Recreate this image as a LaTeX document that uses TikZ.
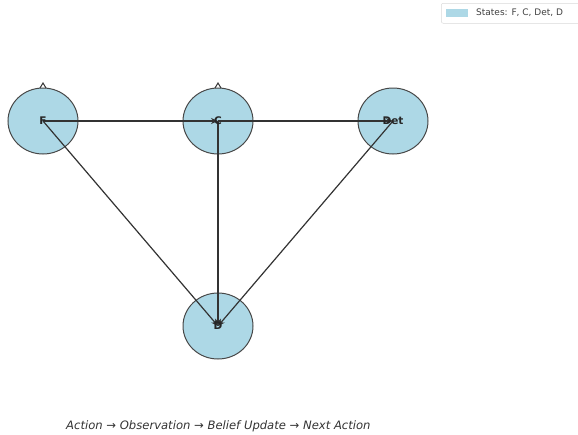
\documentclass[tikz,border=0pt]{standalone}
\usepackage{fontspec}
\setmainfont{DejaVu Sans}
\usetikzlibrary{arrows.meta,shapes.geometric}
\definecolor{lblue}{HTML}{ADD8E6}
\definecolor{edgec}{HTML}{333333}
\begin{document}
\begin{tikzpicture}[x=1pt,y=-1pt,
  state/.style={ellipse,draw=edgec!90,line width=1pt,fill=lblue,minimum width=70pt,minimum height=66pt,inner sep=0pt},
  lbl/.style={font=\bfseries\fontsize{10.5}{12}\selectfont,text=black!85},
  edge/.style={draw=edgec,line width=1.2pt,-{Stealth[length=7pt,width=6pt]}},
  loopmark/.style={draw=edgec,line width=1pt}]
\useasboundingbox (0,0) rectangle (578,434);
\node[state] (F) at (43,121) {};
\node[state] (C) at (218,121) {};
\node[state] (Det) at (393,121) {};
\node[state] (D) at (218,326) {};
\draw[edge] (F.center) -- (C.center);
\draw[edge] (C.center) -- (Det.center);
\draw[edge] (F.center) -- (D.center);
\draw[edge] (C.center) -- (D.center);
\draw[edge] (Det.center) -- (D.center);
\node[lbl] (Fl) at (43,121) {F};
\node[lbl] (Cl) at (218,121) {C};
\node[lbl] (Detl) at (393,121) {Det};
\node[lbl] (Dl) at (218,326) {D};
\coordinate (fl) at (43,86);
\coordinate (cl) at (218,86);
\draw[loopmark] ([xshift=-3pt,yshift=-2pt]fl) -- ([yshift=3pt]fl) -- ([xshift=3pt,yshift=-2pt]fl);
\draw[loopmark] ([xshift=-3pt,yshift=-2pt]cl) -- ([yshift=3pt]cl) -- ([xshift=3pt,yshift=-2pt]cl);
\node[draw=black!15,line width=0.5pt,rounded corners=2pt,anchor=north west,minimum width=140pt,minimum height=20pt] (leg) at (441,3) {};
\fill[lblue] (446,9) rectangle (468,17);
\node[anchor=west,font=\fontsize{9}{11}\selectfont,text=black!75,inner sep=0pt] (legt) at (476,13) {States: F, C, Det, D};
\node[font=\itshape\fontsize{11.6}{13}\selectfont,text=black!80,anchor=west,inner sep=0pt] (cap) at (66,426) {Action → Observation → Belief Update → Next Action};
\end{tikzpicture}
\end{document}
